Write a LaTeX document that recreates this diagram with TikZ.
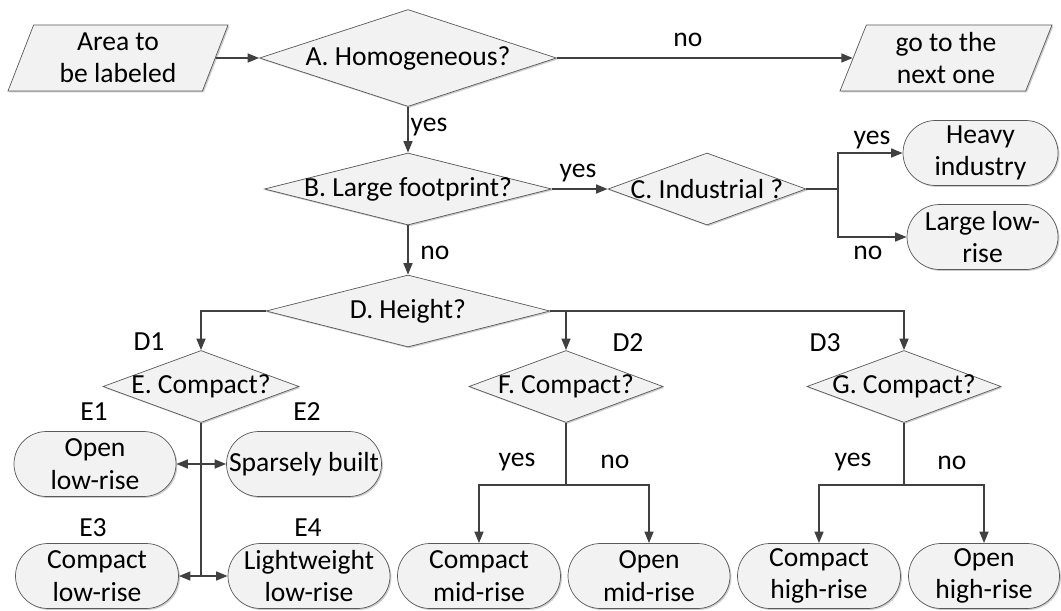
\documentclass[tikz,border=0pt]{standalone}
\usepackage{fontspec}
\setmainfont{Carlito}
\usetikzlibrary{shapes.geometric,shapes.misc,arrows.meta,shadows}

\definecolor{shapefill}{HTML}{F2F2F2}
\definecolor{shapeline}{HTML}{595959}
\definecolor{flowline}{HTML}{404040}

\tikzset{
  softshadow/.style={drop shadow={shadow xshift=0.8pt, shadow yshift=-0.8pt, fill=black!40, opacity=0.5}},
  decision/.style={diamond, draw=shapeline, fill=shapefill, softshadow, inner xsep=-5pt, inner ysep=0pt},
  inout/.style={trapezium, trapezium left angle=63, trapezium right angle=117, trapezium stretches body,
    draw=shapeline, fill=shapefill, softshadow, align=center, inner sep=0pt, minimum height=1.32cm},
  leaf/.style={rounded rectangle, draw=shapeline, fill=shapefill, softshadow,
    align=center, inner sep=0pt, minimum height=1.3cm},
  flow/.style={draw=flowline, line width=1.1pt, -{Triangle[length=6.5pt,width=5pt]}},
  both/.style={draw=flowline, line width=1.1pt, {Triangle[length=6.5pt,width=5pt]}-{Triangle[length=6.5pt,width=5pt]}},
  plain/.style={draw=flowline, line width=1.1pt}
}

\begin{document}
\begin{tikzpicture}[font=\fontsize{15.7}{18.4}\selectfont]
\useasboundingbox (0,0) rectangle (21.22,12.2);

% Top row
\node[inout, minimum width=4.4cm] (start) at (2.36, 11.04) {Area to\\be labeled};
\node[decision, minimum width=5.94cm, minimum height=1.94cm, aspect=3.06] (A) at (8.16, 11.04) {A. Homogeneous?};
\node[inout, minimum width=4.24cm] (next) at (18.92, 11.04) {go to the\\next one};

% Footprint and industry tests
\node[decision, minimum width=5.74cm, minimum height=1.44cm, aspect=4] (B) at (8.16, 8.42) {B. Large footprint?};
\node[decision, minimum width=3.96cm, minimum height=1.44cm, aspect=2.75] (C) at (14.14, 8.42) {C. Industrial ?};
\node[leaf, minimum width=3.1cm] (heavy) at (19.61, 9.14) {Heavy\\industry};
\node[leaf, minimum width=3.02cm] (largelow) at (19.65, 7.46) {Large low-\\rise};

% Height and compactness tests
\node[decision, minimum width=5.68cm, minimum height=1.44cm, aspect=3.9] (D) at (8.16, 5.98) {D. Height?};
\node[decision, minimum width=3.92cm, minimum height=1.44cm, aspect=2.75] (E) at (4.02, 4.47) {E. Compact?};
\node[decision, minimum width=3.88cm, minimum height=1.44cm, aspect=2.75] (F) at (11.32, 4.47) {F. Compact?};
\node[decision, minimum width=3.88cm, minimum height=1.44cm, aspect=2.75] (G) at (18.08, 4.47) {G. Compact?};

% Low-rise classes
\node[leaf, minimum width=3.24cm] (openlow) at (1.9, 2.92) {Open\\low-rise};
\node[leaf, minimum width=3.1cm] (sparse) at (6.08, 2.92) {Sparsely built};
\node[leaf, minimum width=3.26cm] (compactlow) at (1.94, 0.68) {Compact\\low-rise};
\node[leaf, minimum width=3.24cm] (lightlow) at (6.18, 0.68) {Lightweight\\low-rise};

% Mid-rise and high-rise classes
\node[leaf, minimum width=3.26cm] (compactmid) at (9.58, 0.68) {Compact\\mid-rise};
\node[leaf, minimum width=3.24cm] (openmid) at (12.98, 0.68) {Open\\mid-rise};
\node[leaf, minimum width=3.26cm] (compacthigh) at (16.38, 0.68) {Compact\\high-rise};
\node[leaf, minimum width=3.02cm] (openhigh) at (19.68, 0.68) {Open\\high-rise};

% Connectors
\draw[flow] (start.east) -- (A.west);
\draw[flow] (A.east) -- (next.west);
\draw[flow] (A.south) -- (B.north);
\draw[flow] (B.east) -- (C.west);
\draw[flow] (B.south) -- (D.north);
\draw[plain] (C.east) -- ++(0.64,0) coordinate (cfork);
\draw[flow] (cfork) |- (heavy.west);
\draw[flow] (cfork) |- (largelow.west);
\draw[flow] (D.west) -| (E.north);
\draw[flow] (D.east) -| (F.north);
\draw[flow] (D.east) -| (G.north);
\draw[plain] (E.south) -- (E.south |- compactlow.east) coordinate (efork);
\draw[both] (openlow.east) -- (sparse.west);
\draw[both] (compactlow.east) -- (lightlow.west);
\draw[plain] (F.south) -- ++(0,-1.25) coordinate (ffork);
\draw[flow] (ffork) -| (compactmid.north);
\draw[flow] (ffork) -| (openmid.north);
\draw[plain] (G.south) -- ++(0,-1.25) coordinate (gfork);
\draw[flow] (gfork) -| (compacthigh.north);
\draw[flow] (gfork) -| (openhigh.north);

% Branch labels
\node (yesA) at (8.58, 9.66) {yes};
\node (noA) at (13.76, 11.4) {no};
\node (yesB) at (11.56, 8.74) {yes};
\node (noB) at (8.7, 7.14) {no};
\node (yesC) at (17.44, 9.4) {yes};
\node (noC) at (17.36, 7.14) {no};
\node (lD1) at (2.98, 5.36) {D1};
\node (lD2) at (12.56, 5.34) {D2};
\node (lD3) at (16.5, 5.34) {D3};
\node (lE1) at (1.88, 3.96) {E1};
\node (lE2) at (6.14, 3.96) {E2};
\node (lE3) at (1.86, 1.64) {E3};
\node (lE4) at (6.16, 1.64) {E4};
\node (yesF) at (10.34, 2.96) {yes};
\node (noF) at (12.3, 2.96) {no};
\node (yesG) at (17.06, 2.96) {yes};
\node (noG) at (19.04, 2.94) {no};
\end{tikzpicture}
\end{document}
